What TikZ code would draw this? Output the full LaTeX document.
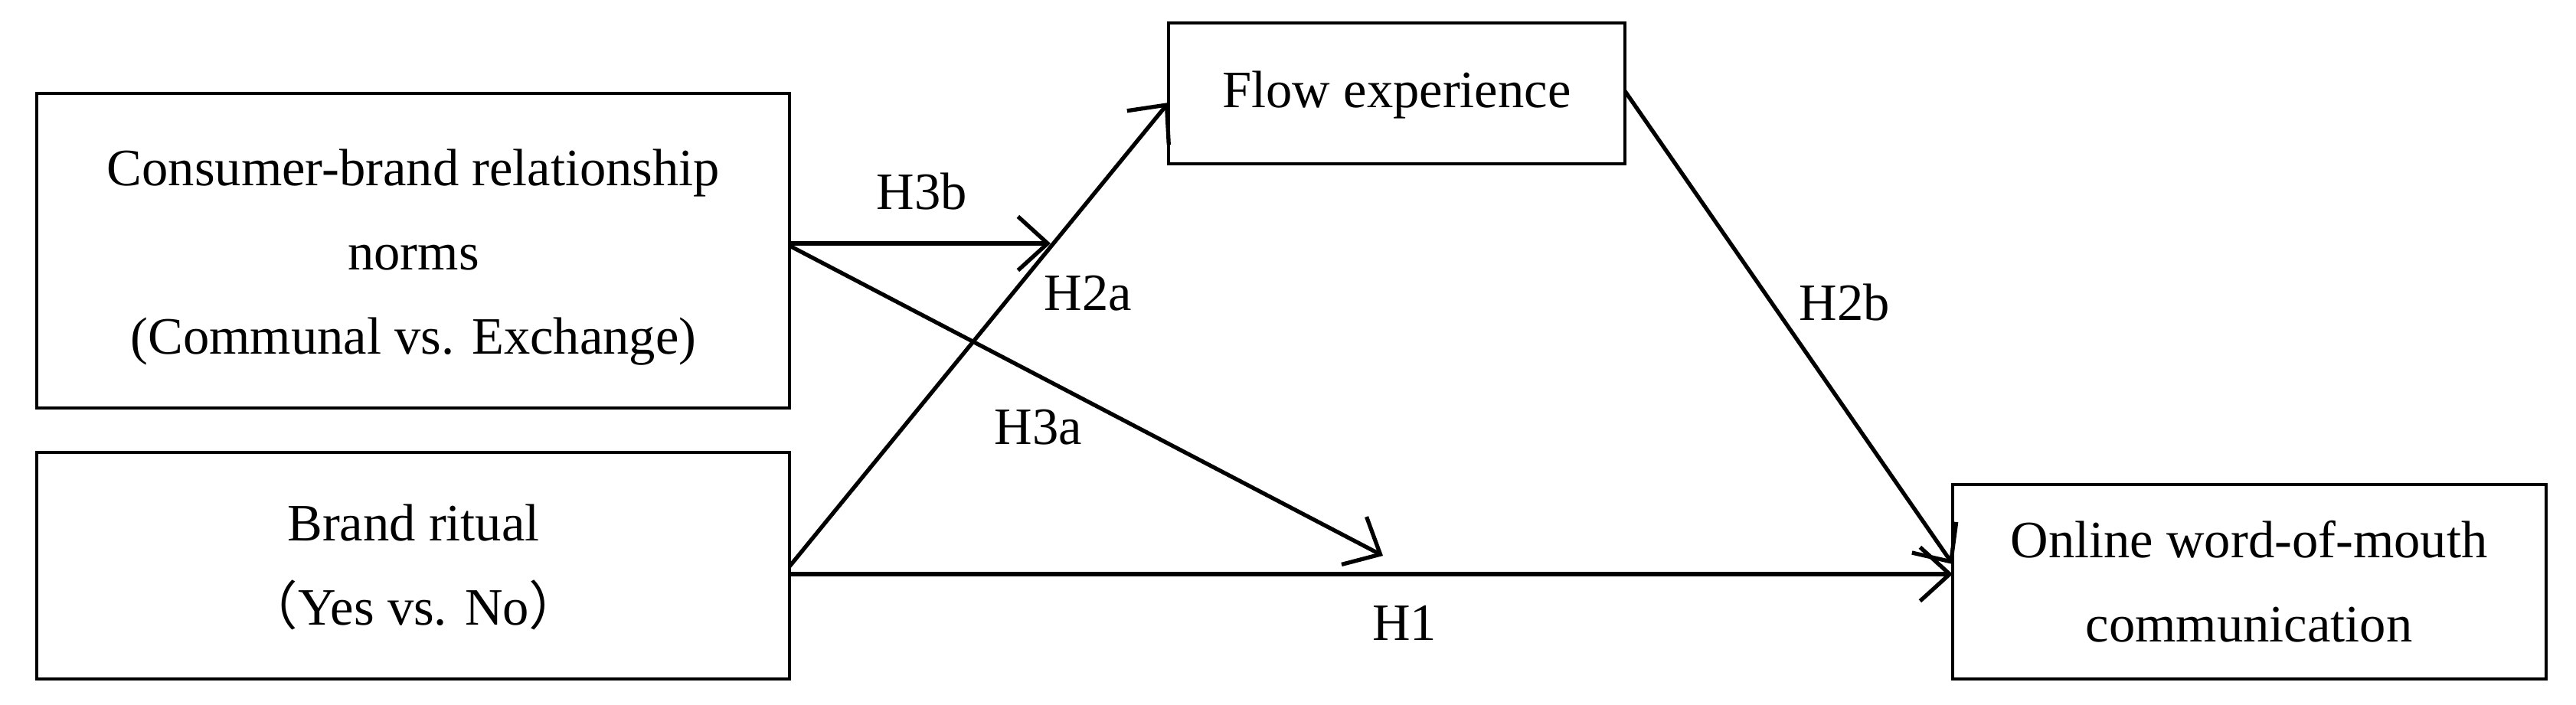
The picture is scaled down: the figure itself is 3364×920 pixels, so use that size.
\documentclass[tikz,border=0pt]{standalone}
\usepackage{fontspec}
\setmainfont{Liberation Serif}
\newfontfamily\cjk{Noto Sans CJK SC}
\usetikzlibrary{arrows.meta}
\begin{document}
\begin{tikzpicture}[x=0.01cm,y=-0.01cm,
	edge/.style={line width=1.5pt,-{Straight Barb[length=11pt,width=20pt]}},
	frame/.style={line width=1.2pt},
	lab/.style={font=\fontsize{19.5pt}{31.3pt}\selectfont,align=center}
	]
	\useasboundingbox (0,0) rectangle (3364,920);
	% boxes
	\draw[frame] (48,122) rectangle (1031,533);
	\node[lab] (crn) at (540,336) {Consumer-brand relationship\\norms\\(Communal vs. Exchange)};
	\draw[frame] (48,591) rectangle (1031,887);
	\node[lab] (br) at (540,741) {Brand ritual\\{\cjk （}Yes vs. No{\cjk ）}};
	\draw[frame] (1526,30) rectangle (2122,214);
	\node[lab] (fe) at (1824,124) {Flow experience};
	\draw[frame] (2550,633) rectangle (3325,887);
	\node[lab] (ow) at (2937,760) {Online word-of-mouth\\communication};
	% connector ends
	\coordinate (crnE) at (1031,318);
	\coordinate (crnE2) at (1031,321);
	\coordinate (brE) at (1031,740);
	\coordinate (brE2) at (1031,750);
	\coordinate (h3bEnd) at (1372,318);
	\coordinate (h3aEnd) at (1806,726);
	\coordinate (feW) at (1526,134);
	\coordinate (feE) at (2122,119);
	\coordinate (owW) at (2550,750);
	\coordinate (owN) at (2550,737);
	\draw[edge] (crnE) -- (h3bEnd);
	\draw[edge] (crnE2) -- (h3aEnd);
	\draw[edge] (brE) -- (feW);
	\draw[edge] (brE2) -- (owW);
	\draw[edge] (feE) -- (owN);
	% labels
	\node[lab] (h3b) at (1204,250) {H3b};
	\node[lab] (h2a) at (1421,383) {H2a};
	\node[lab] (h2b) at (2409,395) {H2b};
	\node[lab] (h3a) at (1356,558) {H3a};
	\node[lab] (h1) at (1834,814) {H1};
\end{tikzpicture}
\end{document}
